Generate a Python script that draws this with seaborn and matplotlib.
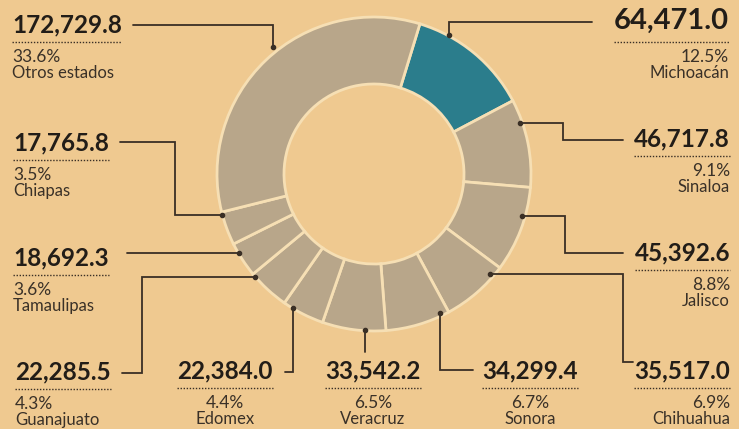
import numpy as np
import pandas as pd
import seaborn as sns
import matplotlib.pyplot as plt

# data (clockwise from the highlighted slice)
states = ["Michoacán", "Sinaloa", "Jalisco", "Chihuahua", "Sonora", "Veracruz",
          "Edomex", "Guanajuato", "Tamaulipas", "Chiapas", "Otros estados"]
values = [64471.0, 46717.8, 45392.6, 35517.0, 34299.4, 33542.2,
          22384.0, 22285.5, 18692.3, 17765.8, 172729.8]
shares = [12.5, 9.1, 8.8, 6.9, 6.7, 6.5, 4.4, 4.3, 3.6, 3.5, 33.6]
highlight = "Michoacán"

bg_color = "#EFC990"
slice_color = "#B8A68A"
teal_color = "#2B7D8C"
sep_color = "#F6DFB4"
ink = "#221D18"
soft_ink = "#3A3128"
line_color = "#3A2F25"

W, H = 739, 429

# label layout in picture pixels (top-left origin): number anchor, alignment,
# size, and the elbow leader path ending at the dot on the ring
layout = {
    "Otros estados": dict(xy=(12, 25), ha="left", size=17.5,
                          path=[(133, 25), (273, 25), (273, 47)]),
    "Michoacán": dict(xy=(729, 21), ha="right", size=21,
                      path=[(592, 22), (449, 22), (449, 35)]),
    "Sinaloa": dict(xy=(730, 139), ha="right", size=17.5,
                    path=[(623, 140), (563, 140), (563, 123), (520, 123)]),
    "Jalisco": dict(xy=(730, 253), ha="right", size=17.5,
                    path=[(623, 253), (565, 253), (565, 216), (522, 216)]),
    "Chihuahua": dict(xy=(730, 371), ha="right", size=17.5,
                      path=[(633, 362), (623, 362), (623, 274), (490, 274)]),
    "Sonora": dict(xy=(530, 371), ha="center", size=17.5,
                   path=[(473, 370), (440, 370), (440, 313)]),
    "Veracruz": dict(xy=(373, 371), ha="center", size=17.5,
                     path=[(365, 352), (365, 330)]),
    "Edomex": dict(xy=(225, 371), ha="center", size=17.5,
                   path=[(285, 372), (293, 372), (293, 308)]),
    "Guanajuato": dict(xy=(15, 372), ha="left", size=17.5,
                       path=[(122, 373), (142, 373), (142, 277), (255, 277)]),
    "Tamaulipas": dict(xy=(13, 258), ha="left", size=17.5,
                       path=[(127, 253), (239, 253)]),
    "Chiapas": dict(xy=(13, 143), ha="left", size=17.5,
                    path=[(120, 142), (175, 142), (175, 215), (222, 215)]),
}


def P(x, y):
    return x, H - y


sns.set_theme(style="white", rc={"figure.facecolor": bg_color, "axes.facecolor": bg_color})
plt.rcParams["font.family"] = ["Lato", "DejaVu Sans"]

fig = plt.figure(figsize=(W / 100, H / 100), dpi=100)
ax = fig.add_axes([0, 0, 1, 1])

colors = [teal_color if s == highlight else slice_color for s in states]
ax.pie(values, colors=colors, startangle=73, counterclock=False,
       center=P(374, 174), radius=157,
       wedgeprops=dict(width=67, edgecolor=sep_color, linewidth=2.0))
ax.set_xlim(0, W)
ax.set_ylim(0, H)
ax.set_aspect("equal")
ax.set_axis_off()

fig.canvas.draw()
renderer = fig.canvas.get_renderer()

for state, value, share in zip(states, values, shares):
    lay = layout[state]
    x, y = lay["xy"]
    big = lay["size"] > 18
    num = ax.text(*P(x, y), f"{value:,.1f}", ha=lay["ha"], va="center",
                  fontsize=lay["size"], fontweight="bold", color=ink)
    bb = num.get_window_extent(renderer)
    dy = 21 if big else 17
    ax.plot([bb.x0, bb.x1], [H - (y + dy)] * 2, color=line_color, lw=1.0,
            ls=(0, (1, 1.2)))
    if lay["ha"] == "center":
        tx = (bb.x0 + bb.x1) / 2
    elif lay["ha"] == "left":
        tx = bb.x0
    else:
        tx = bb.x1
    off = 36 if big else 32
    ax.text(tx, H - (y + off), f"{share}%", ha=lay["ha"], va="center",
            fontsize=12.5, color=soft_ink)
    ax.text(tx, H - (y + off + 16), state, ha=lay["ha"], va="center",
            fontsize=12, color=soft_ink)

    pts = np.array([P(px, py) for px, py in lay["path"]])
    ax.plot(pts[:, 0], pts[:, 1], color=line_color, lw=1.3, solid_joinstyle="miter")
    ax.plot(pts[-1, 0], pts[-1, 1], "o", color=line_color, ms=3)

fig.savefig("out.png", dpi=100, facecolor=bg_color)
